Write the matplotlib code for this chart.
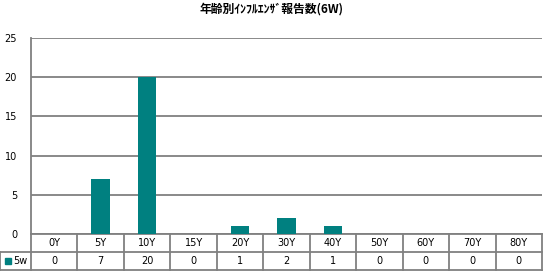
import matplotlib
matplotlib.use('agg')
from matplotlib import pyplot as plt
from matplotlib.transforms import blended_transform_factory
from matplotlib.patches import Rectangle

plt.rcParams['font.family'] = ['DejaVu Sans', 'Noto Sans CJK JP']

# data
age_groups = ['0Y', '5Y', '10Y', '15Y', '20Y', '30Y', '40Y', '50Y', '60Y', '70Y', '80Y']
reports_5w = [0, 7, 20, 0, 1, 2, 1, 0, 0, 0, 0]
series_name = '5w'
title = '年齢別ｲﾝﾌﾙｴﾝｻﾞ報告数(6W)'

W, H = 544, 271
teal = '#008080'
gray = '#808080'

fig = plt.figure(figsize=(W / 100, H / 100), dpi=100)
# plot area in pixels: x 31..542, y 38..234
ax = fig.add_axes([31 / W, (H - 234) / H, 511 / W, 196 / H])

x = list(range(len(age_groups)))
ax.bar(x, reports_5w, width=0.4, color=teal, zorder=3)

ax.set_xlim(-0.5, len(age_groups) - 0.5)
ax.set_ylim(0, 25)
ax.set_yticks(range(0, 26, 5))
ax.set_xticks([])
ax.yaxis.grid(True, color=gray, linewidth=1.3, zorder=0)
ax.tick_params(axis='y', length=0, labelsize=7, pad=10)
for s in ['top', 'right']:
    ax.spines[s].set_visible(False)
for s in ['left', 'bottom']:
    ax.spines[s].set_color(gray)
    ax.spines[s].set_linewidth(1.3)

# data table below the axis
trans = blended_transform_factory(ax.transData, ax.transAxes)
row_h = 18 / 196
left_col = -31 / 511

for b in [i - 0.5 for i in range(len(age_groups) + 1)]:
    ax.plot([b, b], [0, -2 * row_h], transform=trans, color=gray, lw=1.3, clip_on=False)
for y in [-row_h, -2 * row_h]:
    ax.plot([left_col, 1], [y, y], transform=ax.transAxes, color=gray, lw=1.3, clip_on=False)
ax.plot([left_col, left_col], [-row_h, -2 * row_h], transform=ax.transAxes, color=gray, lw=1.3, clip_on=False)

for i, (lab, v) in enumerate(zip(age_groups, reports_5w)):
    ax.text(i, -row_h / 2, lab, transform=trans, ha='center', va='center', fontsize=7)
    ax.text(i, -1.5 * row_h, str(v), transform=trans, ha='center', va='center', fontsize=7)

# legend key in the table
ax.add_patch(Rectangle((left_col + 5 / 511, -1.5 * row_h - 3 / 196), 6 / 511, 6 / 196,
                       transform=ax.transAxes, color=teal, clip_on=False))
ax.text(left_col + 13 / 511, -1.5 * row_h, series_name, transform=ax.transAxes,
        ha='left', va='center', fontsize=7)

fig.text(0.5, 1 - 9 / H, title, ha='center', va='center', fontsize=8.5, fontweight='bold',
         family=['Noto Sans CJK JP', 'DejaVu Sans'])

fig.savefig('out.png', dpi=100)
